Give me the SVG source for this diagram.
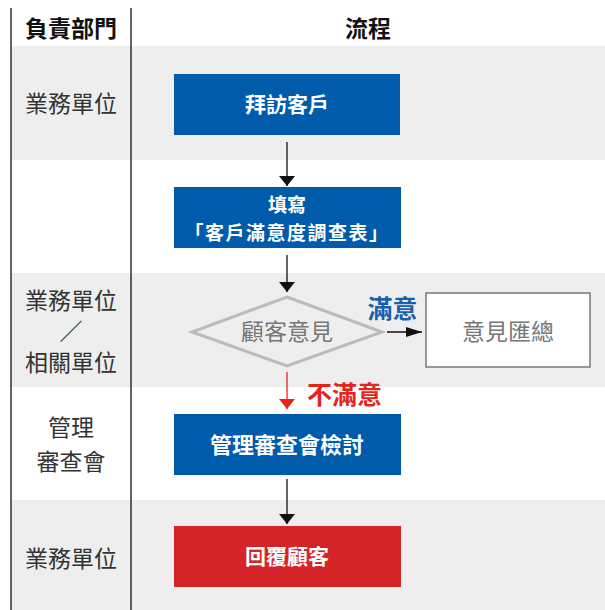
<svg xmlns="http://www.w3.org/2000/svg" width="605" height="610" viewBox="0 0 605 610">
<defs>
<style>
.band{fill:#eeeeee}
.dept{font-family:"Noto Sans CJK TC","Noto Sans CJK SC",sans-serif;font-size:23px;fill:#333;text-anchor:middle}
.head{font-family:"Noto Sans CJK TC","Noto Sans CJK SC",sans-serif;font-size:23px;font-weight:bold;fill:#111;text-anchor:middle}
.btxt{font-family:"Noto Sans CJK TC","Noto Sans CJK SC",sans-serif;font-size:21px;font-weight:bold;fill:#fff;text-anchor:middle}
.gtxt{font-family:"Noto Sans CJK TC","Noto Sans CJK SC",sans-serif;font-size:23px;fill:#777;text-anchor:middle}
.blue{fill:#005bab}
.red{fill:#d42428}
.conn{stroke:#111;stroke-width:1.3;fill:none}
</style>
<marker id="ah" viewBox="0 0 16 10" refX="16" refY="5" markerWidth="16" markerHeight="10" markerUnits="userSpaceOnUse" orient="auto"><path d="M0,0 L16,5 L0,10 z" fill="#111"/></marker>
<marker id="ahd" viewBox="0 0 10 16" refX="10" refY="8" markerWidth="10" markerHeight="16" markerUnits="userSpaceOnUse" orient="auto"><path d="M0,0 L10,8 L0,16 z" fill="#111"/></marker>
<marker id="ahr" viewBox="0 0 10 16" refX="10" refY="8" markerWidth="10" markerHeight="16" markerUnits="userSpaceOnUse" orient="auto"><path d="M0,0 L10,8 L0,16 z" fill="#e8231c"/></marker>
</defs>
<rect width="605" height="610" fill="#fff"/>
<g id="bands">
<rect class="band" x="11" y="46" width="594" height="114"/>
<rect class="band" x="11" y="273" width="594" height="114"/>
<rect class="band" x="11" y="500" width="594" height="110"/>
</g>
<g id="grid">
<line x1="11" y1="8" x2="11" y2="610" stroke="#111" stroke-width="1.3"/>
<line x1="131" y1="8" x2="131" y2="610" stroke="#111" stroke-width="1.3"/>
</g>
<g id="headers">
<text class="head" x="71" y="37">負責部門</text>
<text class="head" x="368" y="37">流程</text>
</g>
<g id="departments">
<text class="dept" x="71" y="112">業務單位</text>
<text class="dept" x="71" y="309">業務單位</text>
<text class="dept" x="71" y="340">／</text>
<text class="dept" x="71" y="371">相關單位</text>
<text class="dept" x="71" y="436">管理</text>
<text class="dept" x="71" y="470">審查會</text>
<text class="dept" x="71" y="567">業務單位</text>
</g>
<g id="connectors">
<line class="conn" x1="287" y1="142" x2="287" y2="186" marker-end="url(#ahd)"/>
<line class="conn" x1="287" y1="255" x2="287" y2="292" marker-end="url(#ahd)"/>
<line class="conn" x1="387" y1="332" x2="422" y2="332" marker-end="url(#ah)"/>
<line x1="287" y1="372" x2="287" y2="409" stroke="#e8231c" stroke-width="1.3" marker-end="url(#ahr)"/>
<line class="conn" x1="287" y1="479" x2="287" y2="524" marker-end="url(#ahd)"/>
<text x="392.5" y="318" font-family="Noto Sans CJK TC,Noto Sans CJK SC,sans-serif" font-size="25" font-weight="bold" fill="#1a5fad" text-anchor="middle">滿意</text>
<text x="344.5" y="404" font-family="Noto Sans CJK TC,Noto Sans CJK SC,sans-serif" font-size="25" font-weight="bold" fill="#e8231c" text-anchor="middle">不滿意</text>
</g>
<g id="n1"><rect class="blue" x="174" y="74" width="226" height="61"/><text class="btxt" x="287" y="112">拜訪客戶</text></g>
<g id="n2"><rect class="blue" x="174" y="187" width="227" height="61"/><text class="btxt" x="287" y="212" style="font-size:19px">填寫</text><text class="btxt" x="287" y="240" style="font-size:19px;letter-spacing:1.5px">「客戶滿意度調查表」</text></g>
<g id="n3"><polygon points="287,297 382,332 287,366 192,332" fill="none" stroke="#bbb" stroke-width="3"/><text class="gtxt" x="287" y="340">顧客意見</text></g>
<g id="n4"><rect x="426" y="293" width="164" height="74" fill="#fff" stroke="#777" stroke-width="1.5"/><text class="gtxt" x="508" y="340">意見匯總</text></g>
<g id="n5"><rect class="blue" x="174" y="414" width="227" height="61"/><text class="btxt" x="287" y="453" style="font-size:22px">管理審查會檢討</text></g>
<g id="n6"><rect class="red" x="174" y="526" width="227" height="61"/><text class="btxt" x="287" y="564">回覆顧客</text></g>
</svg>
